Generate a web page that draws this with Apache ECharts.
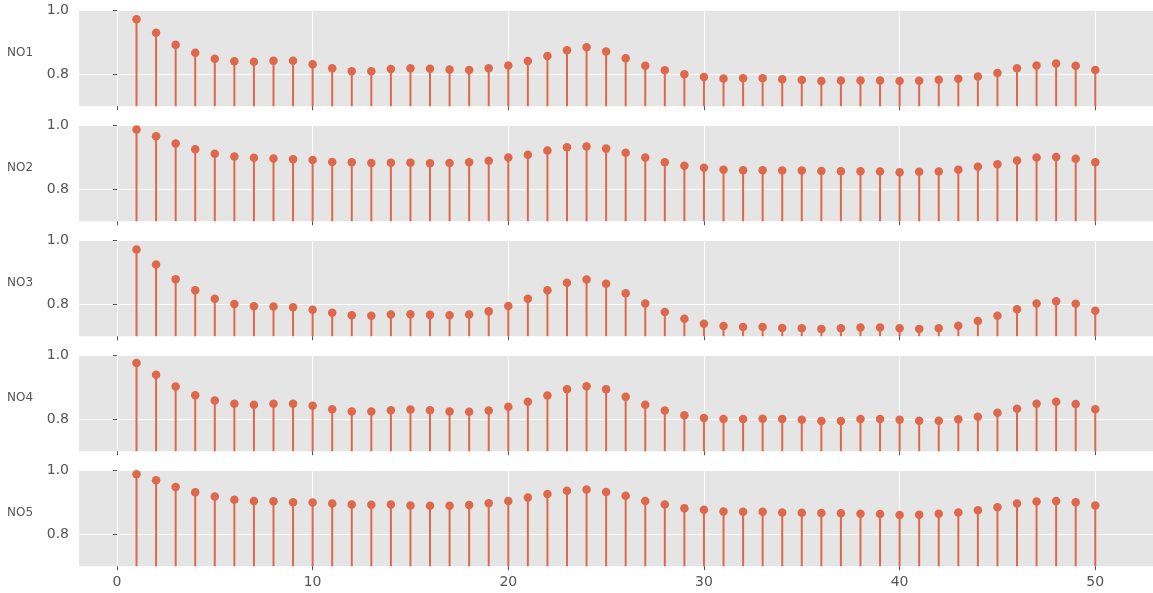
<!DOCTYPE html>
<html>
<head>
<meta charset="utf-8">
<title>NO1–NO5 stem plots</title>
<script src="https://cdn.jsdelivr.net/npm/echarts@6/dist/echarts.min.js"></script>
<style>
  html, body { margin: 0; padding: 0; background: #ffffff; }
  #chart { width: 1153px; height: 593px; }
</style>
</head>
<body>
<div id="chart"></div>
<script>
// Sample index shared by all five panels
const steps = [1, 2, 3, 4, 5, 6, 7, 8, 9, 10, 11, 12, 13, 14, 15, 16, 17, 18, 19, 20,
  21, 22, 23, 24, 25, 26, 27, 28, 29, 30, 31, 32, 33, 34, 35, 36, 37, 38, 39, 40,
  41, 42, 43, 44, 45, 46, 47, 48, 49, 50];

const panelNames = ['NO1', 'NO2', 'NO3', 'NO4', 'NO5'];

const no1 = [0.973, 0.931, 0.893, 0.868, 0.849, 0.841, 0.840, 0.843, 0.843, 0.832,
  0.819, 0.810, 0.810, 0.817, 0.819, 0.818, 0.815, 0.814, 0.819, 0.828,
  0.842, 0.858, 0.876, 0.885, 0.872, 0.851, 0.827, 0.813, 0.800, 0.792,
  0.787, 0.788, 0.788, 0.785, 0.782, 0.779, 0.781, 0.781, 0.781, 0.779,
  0.780, 0.783, 0.786, 0.793, 0.804, 0.819, 0.828, 0.834, 0.827, 0.814];

const no2 = [0.988, 0.967, 0.944, 0.926, 0.912, 0.903, 0.899, 0.897, 0.895, 0.892,
  0.886, 0.885, 0.883, 0.884, 0.884, 0.882, 0.883, 0.885, 0.890, 0.900,
  0.909, 0.922, 0.932, 0.935, 0.928, 0.915, 0.900, 0.885, 0.874, 0.868,
  0.862, 0.860, 0.860, 0.859, 0.859, 0.858, 0.857, 0.857, 0.856, 0.854,
  0.855, 0.856, 0.862, 0.871, 0.879, 0.891, 0.900, 0.902, 0.896, 0.885];

const no3 = [0.972, 0.925, 0.879, 0.844, 0.818, 0.801, 0.794, 0.793, 0.791, 0.783,
  0.774, 0.766, 0.764, 0.768, 0.769, 0.767, 0.766, 0.768, 0.778, 0.795,
  0.818, 0.844, 0.868, 0.878, 0.865, 0.835, 0.803, 0.776, 0.755, 0.739,
  0.732, 0.729, 0.729, 0.726, 0.725, 0.723, 0.725, 0.727, 0.727, 0.725,
  0.723, 0.725, 0.733, 0.748, 0.764, 0.785, 0.803, 0.810, 0.802, 0.780];

const no4 = [0.977, 0.940, 0.903, 0.876, 0.859, 0.849, 0.846, 0.849, 0.849, 0.843,
  0.832, 0.825, 0.825, 0.829, 0.831, 0.829, 0.825, 0.824, 0.828, 0.840,
  0.855, 0.875, 0.895, 0.904, 0.895, 0.871, 0.846, 0.828, 0.813, 0.804,
  0.801, 0.801, 0.802, 0.801, 0.799, 0.795, 0.795, 0.801, 0.801, 0.799,
  0.796, 0.796, 0.800, 0.808, 0.821, 0.833, 0.849, 0.855, 0.848, 0.832];

const no5 = [0.989, 0.970, 0.949, 0.932, 0.919, 0.909, 0.905, 0.904, 0.901, 0.900,
  0.897, 0.894, 0.893, 0.894, 0.891, 0.890, 0.890, 0.892, 0.898, 0.905,
  0.916, 0.927, 0.937, 0.941, 0.933, 0.921, 0.905, 0.894, 0.882, 0.877,
  0.872, 0.871, 0.871, 0.869, 0.868, 0.867, 0.866, 0.865, 0.864, 0.861,
  0.862, 0.865, 0.869, 0.876, 0.885, 0.897, 0.903, 0.905, 0.901, 0.891];

const panelValues = [no1, no2, no3, no4, no5];

const xTicks = [0, 10, 20, 30, 40, 50];
const yTicks = [0.8, 1.0];

const STEM = '#DF684B';
const TEXT = '#555555';
const FONT = 'DejaVu Sans';

const PANEL_TOP = 10.7;
const PANEL_STEP = 115;
const PANEL_H = 95.5;

const grids = [], xAxes = [], yAxes = [], series = [], labels = [];

panelValues.forEach((vals, k) => {
  const top = PANEL_TOP + PANEL_STEP * k;
  grids.push({
    left: 79, right: 0, top: top, height: PANEL_H,
    show: true, backgroundColor: '#E5E5E5', borderWidth: 0
  });
  xAxes.push({
    type: 'value', gridIndex: k, min: -1.94, max: 52.95,
    axisLine: { show: false },
    axisTick: { show: true, customValues: xTicks, length: 4, lineStyle: { color: TEXT, width: 1 } },
    axisLabel: {
      show: k === panelValues.length - 1, customValues: xTicks, margin: 9,
      fontSize: 14, color: TEXT, fontFamily: FONT
    },
    splitLine: { show: true, lineStyle: { color: '#ffffff', width: 1 } }
  });
  yAxes.push({
    type: 'value', gridIndex: k, min: 0.7, max: 1.0,
    axisLine: { show: false },
    axisTick: { show: true, customValues: yTicks, length: 4, lineStyle: { color: TEXT, width: 1 } },
    axisLabel: {
      customValues: yTicks, margin: 10, fontSize: 14, color: TEXT, fontFamily: FONT,
      formatter: v => v.toFixed(1)
    },
    splitLine: { show: true, lineStyle: { color: '#ffffff', width: 1 } }
  });
  const pts = steps.map((s, i) => [s, vals[i]]);
  // stems
  series.push({
    type: 'bar', xAxisIndex: k, yAxisIndex: k, data: pts,
    barWidth: 2, itemStyle: { color: STEM }, silent: true, z: 2
  });
  // markers on top of the stems
  series.push({
    type: 'scatter', xAxisIndex: k, yAxisIndex: k, data: pts,
    symbol: 'circle', symbolSize: 8.5, itemStyle: { color: STEM, opacity: 1 },
    silent: true, z: 3
  });
  // panel name to the left of the y tick labels
  labels.push({
    type: 'text', x: 20, y: top + 42, z: 10,
    style: {
      text: panelNames[k], fill: TEXT, font: '12px "' + FONT + '"',
      textAlign: 'center', textVerticalAlign: 'middle'
    }
  });
});

const chart = echarts.init(document.getElementById('chart'), null, { renderer: 'canvas' });
chart.setOption({
  animation: false,
  backgroundColor: '#ffffff',
  grid: grids,
  xAxis: xAxes,
  yAxis: yAxes,
  series: series,
  graphic: labels
});
</script>
</body>
</html>
